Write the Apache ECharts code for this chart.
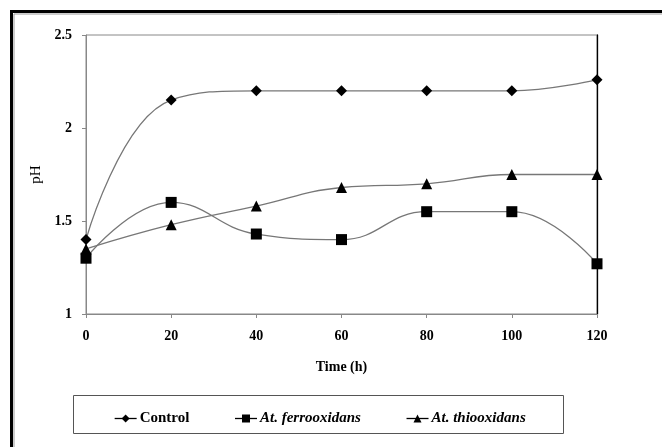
<!DOCTYPE html>
<html>
<head>
<meta charset="utf-8">
<script src="https://cdn.jsdelivr.net/npm/echarts@6/dist/echarts.min.js"></script>
<style>html,body{margin:0;padding:0;background:#fff}#c{width:662px;height:447px}</style>
</head>
<body>
<div id="c"></div>
<script>
var times = [0, 20, 40, 60, 80, 100, 120];
var control = [1.4, 2.15, 2.2, 2.2, 2.2, 2.2, 2.26];
var ferro = [1.3, 1.6, 1.43, 1.4, 1.55, 1.55, 1.27];
var thio = [1.35, 1.48, 1.58, 1.68, 1.7, 1.75, 1.75];
var seriesNames = ['Control', 'At. ferrooxidans', 'At. thiooxidans'];

function pairs(v) { return times.map(function (t, i) { return [t, v[i]]; }); }

var chart = echarts.init(document.getElementById('c'));
var font = '"Liberation Serif", "Times New Roman", serif';
var lineStyle = { color: '#777', width: 1.3 };
var baseSeries = function (name, data, symbol, size) {
  return {
    name: name, type: 'line', data: pairs(data), smooth: 0.45,
    symbol: symbol, symbolSize: size, showSymbol: true,
    itemStyle: { color: '#000' }, lineStyle: lineStyle,
    animation: false, z: 5
  };
};
chart.setOption({
  animation: false,
  graphic: [
    { type: 'rect', shape: { x: 11.5, y: 11.5, width: 700, height: 500 }, style: { fill: 'none', stroke: '#000', lineWidth: 3 }, silent: true },
    { type: 'rect', shape: { x: 14, y: 14, width: 700, height: 500 }, style: { fill: 'none', stroke: '#999', lineWidth: 1 }, silent: true },
    { type: 'rect', shape: { x: 73.5, y: 395.5, width: 490, height: 38 }, style: { fill: 'none', stroke: '#555', lineWidth: 1 }, silent: true }
  ],
  grid: { left: 86, right: 65, top: 35, bottom: 133, show: true, borderColor: '#888', borderWidth: 1 },
  legend: {
    data: [
      { name: seriesNames[0], textStyle: { fontStyle: 'normal' } },
      { name: seriesNames[1], textStyle: { fontStyle: 'italic' } },
      { name: seriesNames[2], textStyle: { fontStyle: 'italic' } }
    ],
    left: 109, top: 406, itemGap: 45, itemWidth: 22, itemHeight: 10,
    itemStyle: { color: '#000' }, lineStyle: { color: '#000', width: 1.3 },
    textStyle: { fontFamily: font, fontWeight: 'bold', fontSize: 15, color: '#000', padding: [0, 0, 0, -2] }
  },
  xAxis: {
    type: 'value', min: 0, max: 120, interval: 20,
    name: 'Time (h)', nameLocation: 'middle', nameGap: 46,
    nameTextStyle: { fontFamily: font, fontWeight: 'bold', fontSize: 14, color: '#000' },
    axisLine: { lineStyle: { color: '#888' } },
    axisTick: { show: true, length: 4, lineStyle: { color: '#888' } },
    axisLabel: { fontFamily: font, fontWeight: 'bold', fontSize: 14, color: '#000', margin: 15 },
    splitLine: { show: false }
  },
  yAxis: [{
    type: 'value', min: 1, max: 2.5, interval: 0.5,
    name: 'pH', nameLocation: 'middle', nameGap: 40, nameRotate: 90,
    nameTextStyle: { fontFamily: font, fontWeight: 'normal', fontSize: 15, color: '#000' },
    axisLine: { show: true, lineStyle: { color: '#888' } },
    axisTick: { show: true, length: 4, lineStyle: { color: '#888' } },
    axisLabel: { fontFamily: font, fontWeight: 'bold', fontSize: 14, color: '#000', margin: 14,
      formatter: function (v) { return String(Math.round(v * 10) / 10); } },
    splitLine: { show: false }
  }, {
    type: 'value', min: 1, max: 2.5, interval: 0.5, position: 'right',
    axisLine: { show: true, lineStyle: { color: '#000', width: 1.3 } },
    axisTick: { show: false }, axisLabel: { show: false }, splitLine: { show: false }
  }],
  series: [
    baseSeries(seriesNames[0], control, 'diamond', 11),
    baseSeries(seriesNames[1], ferro, 'rect', 11),
    baseSeries(seriesNames[2], thio, 'triangle', 11)
  ]
});
</script>
</body>
</html>
